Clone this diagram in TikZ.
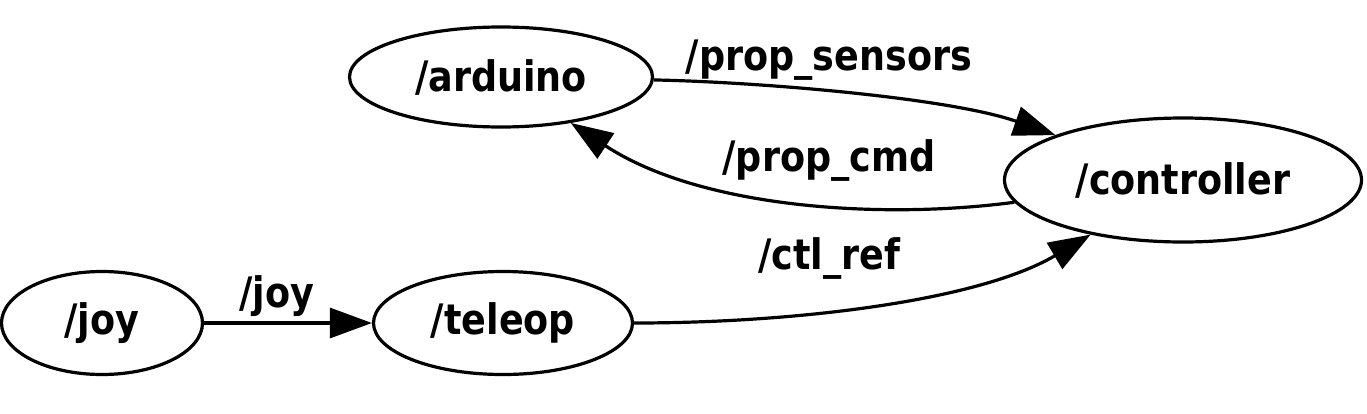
\documentclass[tikz,border=0pt]{standalone}
\usepackage{fontspec}
\setmainfont{DejaVu Sans}[FakeStretch=0.87]
\usetikzlibrary{shapes.geometric,arrows.meta}
\tikzset{
  gnode/.style={ellipse, draw=black, line width=3.2pt, inner sep=0pt, font=\fontsize{42}{45}\selectfont\bfseries},
  glabel/.style={inner sep=0pt, font=\fontsize{42}{45}\selectfont\bfseries},
  gedge/.style={line width=3.2pt, -{Triangle[length=42pt,width=30pt]}}
}
\begin{document}
\begin{tikzpicture}[x=1pt,y=-1pt]
\useasboundingbox (0,0) rectangle (1367,413);
\node[gnode, minimum width=303pt, minimum height=100pt] (arduino) at (501,77) {/arduino};
\node[gnode, minimum width=357pt, minimum height=124pt] (controller) at (1183,180) {/controller};
\node[gnode, minimum width=201pt, minimum height=103pt] (joy) at (102,323) {/joy};
\node[gnode, minimum width=259pt, minimum height=103pt] (teleop) at (503,323) {/teleop};

\node[glabel] (lsens) at (829,60) {/prop\_sensors};
\node[glabel] (lcmd) at (829,160) {/prop\_cmd};
\node[glabel] (lref) at (829,258) {/ctl\_ref};
\node[glabel] (ljoy) at (277,296) {/joy};

\draw[gedge] (arduino) .. controls (760,82) and (950,98) .. (controller);
\draw[gedge] (controller) .. controls (880,220) and (700,208) .. (arduino);
\draw[gedge] (teleop) .. controls (800,323) and (980,300) .. (controller);
\draw[gedge] (joy) -- (teleop);
\end{tikzpicture}
\end{document}
